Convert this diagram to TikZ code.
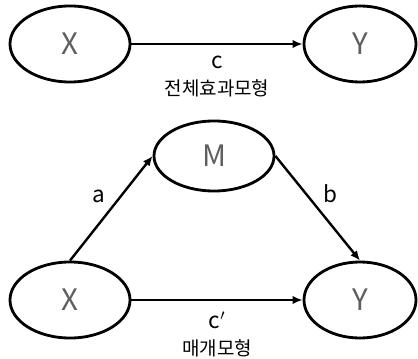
\documentclass[tikz,border=0pt]{standalone}
\usepackage{fontspec}
\setmainfont{Noto Sans CJK KR}
\usetikzlibrary{arrows.meta,positioning,shapes.geometric}
\definecolor{lettergray}{RGB}{95,95,95}

\begin{document}
\begin{tikzpicture}[
    x=0.025cm, y=-0.025cm,
    var/.style={draw, ellipse, line width=2pt, inner sep=0pt,
                minimum width=3cm, minimum height=1.9cm,
                font=\fontsize{21}{21}\selectfont, text=lettergray},
    outvar/.style={var, minimum width=2.8cm},
    arr/.style={-{Latex[length=7pt,width=6pt]}, line width=1.7pt},
    lbl/.style={font=\fontsize{16}{16}\selectfont},
    modelname/.style={font=\fontsize{13.5}{13.5}\selectfont}
  ]
  \useasboundingbox (0,0) rectangle (418,359);
  % total effect model
  \node[var] (x1) at (70,44) {X};
  \node[outvar] (y1) at (360,44) {Y};
  \draw[arr] (x1) -- node[lbl, below=4pt] (c) {c} (y1);
  \node[modelname, below=0pt of c] (t1) {전체효과모형};
  % mediation model
  \node[var, minimum height=1.75cm] (m) at (214,156) {M};
  \node[var] (x2) at (70,300) {X};
  \node[outvar] (y2) at (360,300) {Y};
  \draw[arr] (x2.north) -- node[lbl, above left=0pt] (a) {a} (m.west);
  \draw[arr] (m.east) -- node[lbl, above right=0pt] (b) {b} (y2.north);
  \draw[arr] (x2) -- node[lbl, below=4pt] (cp) {c$'$} (y2);
  \node[modelname, below=0pt of cp] (t2) {매개모형};
\end{tikzpicture}
\end{document}
